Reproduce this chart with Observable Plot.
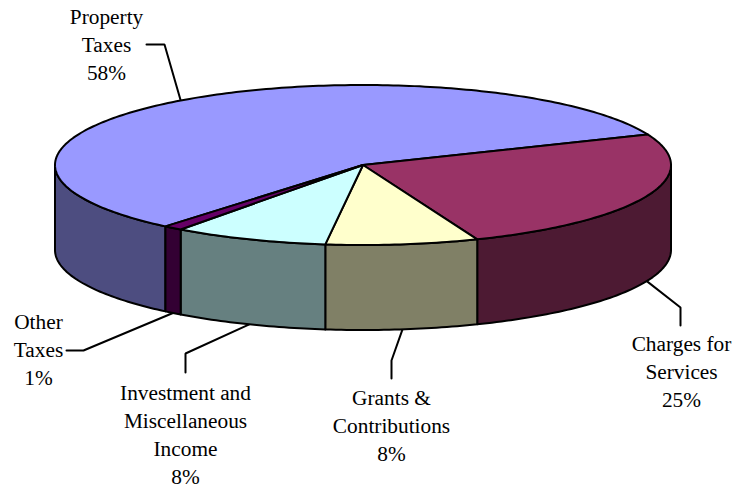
<!DOCTYPE html>
<html>
<head>
<meta charset="utf-8">
<script src="https://cdn.jsdelivr.net/npm/d3@7"></script>
<script src="https://cdn.jsdelivr.net/npm/@observablehq/plot@0.6"></script>
<style>html,body{margin:0;padding:0;background:#fff}svg{display:block}</style>
</head>
<body>
<div id="chart"></div>
<script>
const categories = ["Property Taxes", "Charges for Services", "Grants & Contributions", "Investment and Miscellaneous Income", "Other Taxes"];
const shares = [57.67, 25.2, 8, 8.13, 1];
const labelLines = [["Property", "Taxes", "58%"], ["Charges for", "Services", "25%"], ["Grants &", "Contributions", "8%"], ["Investment and", "Miscellaneous", "Income", "8%"], ["Other", "Taxes", "1%"]];
const topColors = ["#9999ff", "#993366", "#ffffcc", "#ccffff", "#660066"];
const sideColors = ["#4d4d80", "#4d1a33", "#808066", "#668080", "#330033"];
const labelX = [106, 681, 391, 185, 38];
const labelY = [45, 372, 426, 435, 350];
const kneeX = [164, 680, 391, 185, 83];
const kneeY = [44, 307, 360, 353, 350];
const endX = [146, 680, 391, 185, 66];
const endY = [44, 325, 378, 372, 350];

const W = 733, H = 489;
const cx = 362.5, cy = 164.5, rx = 308, ry = 80, depth = 85;
const startDeg = 129.9;
const rad = d => d * Math.PI / 180;
const ex = d => cx + rx * Math.cos(rad(d));
const ey = d => cy + ry * Math.sin(rad(d));

let acc = startDeg;
const slices = shares.map((s, i) => {
  const a0 = acc, a1 = acc + s * 3.6; acc = a1;
  return {i, a0, a1, mid: (a0 + a1) / 2};
});
const arc = (a0, a1) => {
  const n = Math.max(2, Math.ceil(Math.abs(a1 - a0)));
  return d3.range(n + 1).map(k => a0 + (a1 - a0) * k / n);
};

const sidePts = [], topPts = [];
for (const s of slices) {
  // the visible outer wall is the part of the rim on the front half (0..180 degrees, mod 360)
  for (const off of [0, 360]) {
    const lo = Math.max(s.a0, off), hi = Math.min(s.a1, off + 180);
    if (hi <= lo) continue;
    const id = s.i + "-" + off;
    for (const a of arc(lo, hi)) sidePts.push({id, x: ex(a), y: ey(a), c: sideColors[s.i]});
    for (const a of arc(hi, lo)) sidePts.push({id, x: ex(a), y: ey(a) + depth, c: sideColors[s.i]});
    sidePts.push({id, x: ex(lo), y: ey(lo), c: sideColors[s.i]});
  }
  topPts.push({id: s.i, x: cx, y: cy, c: topColors[s.i]});
  for (const a of arc(s.a0, s.a1)) topPts.push({id: s.i, x: ex(a), y: ey(a), c: topColors[s.i]});
  topPts.push({id: s.i, x: cx, y: cy, c: topColors[s.i]});
}

// Leaders start on the slice's rim at its mid angle (lower rim when the mid angle faces front)
const leaderPts = slices.flatMap(s => {
  const m = ((s.mid % 360) + 360) % 360;
  const front = m < 180;
  return [
    {id: s.i, x: ex(m), y: ey(m) + (front ? depth : 0)},
    {id: s.i, x: kneeX[s.i], y: kneeY[s.i]},
    {id: s.i, x: endX[s.i], y: endY[s.i]}
  ];
});

const labels = categories.map((c, i) => ({name: c, text: labelLines[i].join("\n"), x: labelX[i], y: labelY[i]}));

const chart = Plot.plot({
  width: W, height: H,
  margin: 0,
  x: {domain: [0, W], range: [0, W], axis: null},
  y: {domain: [0, H], range: [0, H], axis: null},
  style: {background: "#fff"},
  marks: [
    Plot.line(leaderPts, {x: "x", y: "y", z: "id", stroke: "#000", strokeWidth: 2, strokeLinejoin: "miter", curve: "linear"}),
    Plot.line(sidePts, {x: "x", y: "y", z: "id", fill: d => d.c, stroke: "#000", strokeWidth: 2, curve: "linear"}),
    Plot.line(topPts, {x: "x", y: "y", z: "id", fill: d => d.c, stroke: "#000", strokeWidth: 2, curve: "linear"}),
    Plot.text(labels, {x: "x", y: "y", dy: -2, text: "text", lineHeight: 28 / 21.33, fontSize: 21.33, fontFamily: "Liberation Serif", fill: "#000", textAnchor: "middle"})
  ]
});
document.getElementById("chart").append(chart);
</script>
</body>
</html>
